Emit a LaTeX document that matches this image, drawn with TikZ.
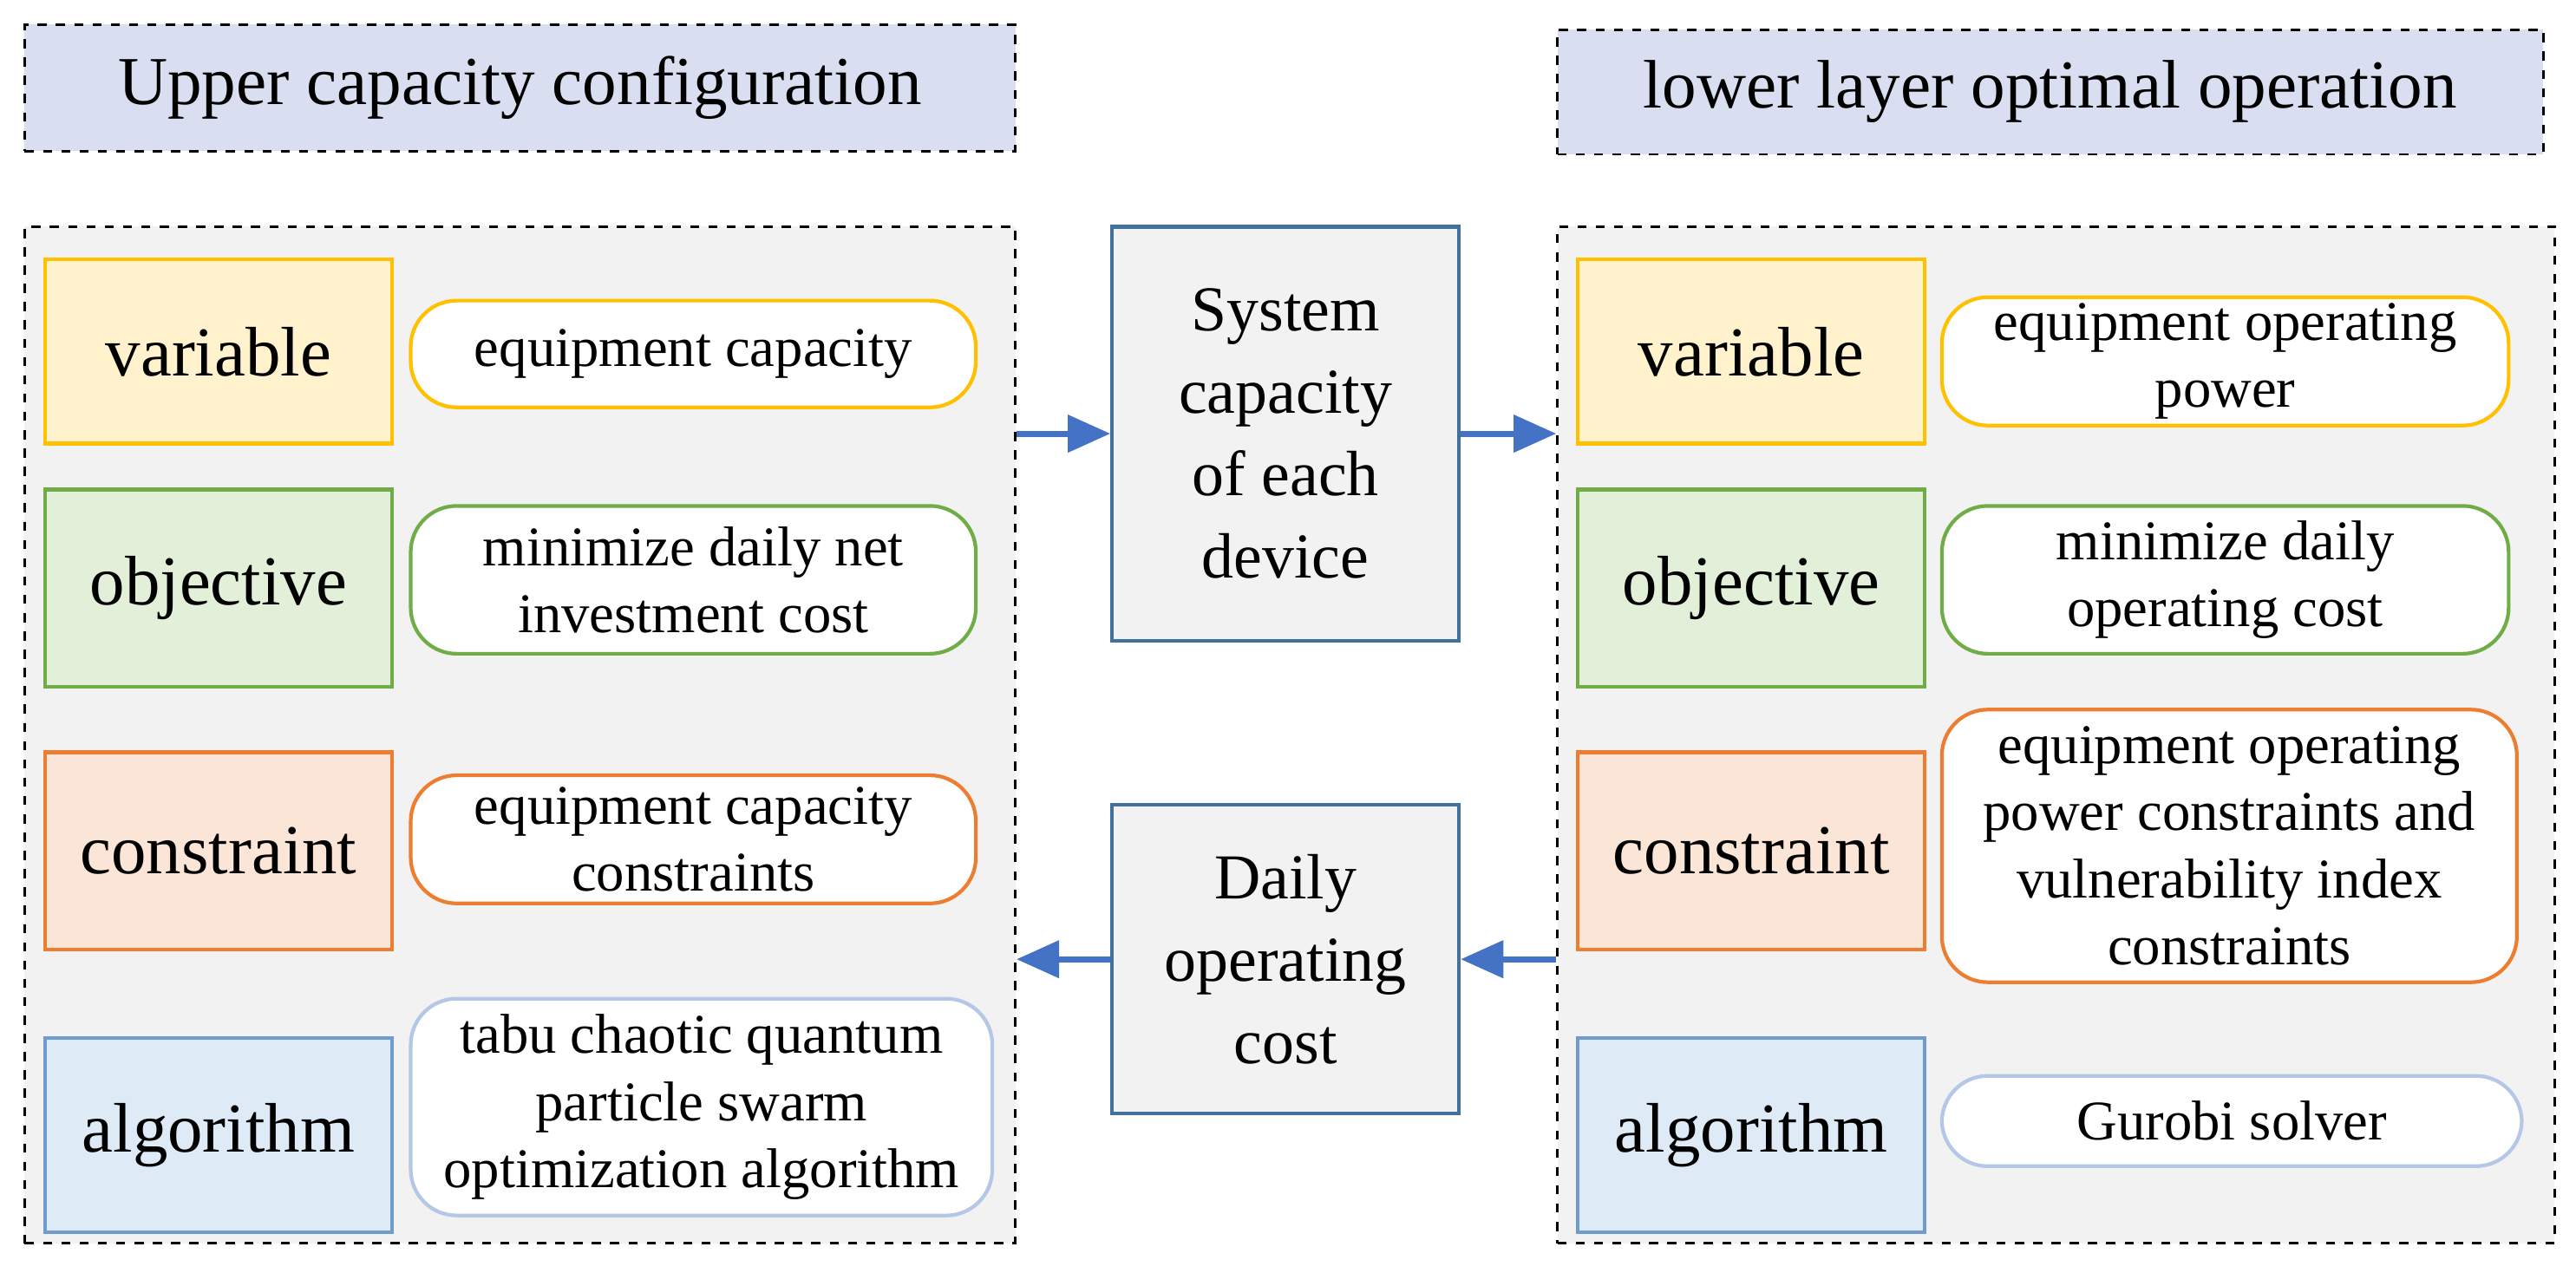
\documentclass[tikz,border=0pt]{standalone}
\usepackage{fontspec}
\setmainfont{Liberation Serif}
\usetikzlibrary{arrows.meta}
\newcommand\px{0.01894cm}
\definecolor{titlefill}{HTML}{D9DFF0}
\definecolor{framefill}{HTML}{F2F2F2}
\definecolor{yelfill}{HTML}{FFF2CC}
\definecolor{yeldraw}{HTML}{FFC000}
\definecolor{grnfill}{HTML}{E2F0D9}
\definecolor{grndraw}{HTML}{70AD47}
\definecolor{orgfill}{HTML}{FBE5D6}
\definecolor{orgdraw}{HTML}{ED7D31}
\definecolor{blufill}{HTML}{DEEBF7}
\definecolor{bludraw}{HTML}{6F9BD0}
\definecolor{pilblu}{HTML}{B4C7E7}
\definecolor{boxdraw}{HTML}{41719C}
\definecolor{arrcol}{HTML}{4472C4}
\tikzset{
    frame/.style={
           rectangle,
           draw=black, thick, dashed,
           fill=#1,
           inner sep=0pt,
           },
    label/.style={
           rectangle,
           draw=#1, very thick,
           inner sep=2pt,
           minimum width=211*\px,
           font=\fontsize{23}{27}\selectfont,
           },
    pill/.style={
           rectangle,
           rounded corners=28*\px,
           draw=#1, very thick,
           fill=white,
           inner sep=2pt,
           align=center,
           font=\fontsize{18.4}{22}\selectfont,
           },
    centre/.style={
           rectangle,
           draw=boxdraw, very thick,
           fill=framefill,
           minimum width=211*\px,
           align=center,
           font=\fontsize{21}{27}\selectfont,
           },
    link/.style={
           draw=arrcol, line width=2pt,
           -{Triangle[length=14pt,width=12pt]},
           },
}
\begin{document}
\begin{tikzpicture}[x=\px,y=-\px]
 \useasboundingbox (0,0) rectangle (1568,775);

 % titles
 \node[frame=titlefill,minimum width=603*\px,minimum height=77*\px,font=\fontsize{22.5}{27}\selectfont] (titleL) at (316.5,53.5) {Upper capacity configuration};
 \node[frame=titlefill,minimum width=600*\px,minimum height=76*\px,font=\fontsize{22.5}{27}\selectfont] (titleR) at (1248,56) {lower layer optimal operation};

 % frames
 \node[frame=framefill,minimum width=603*\px,minimum height=619*\px] (frameL) at (316.5,447.5) {};
 \node[frame=framefill,minimum width=607*\px,minimum height=619*\px] (frameR) at (1251.5,447.5) {};

 % left side
 \node[label=yeldraw,fill=yelfill,minimum height=112*\px] (varL) at (133,214) {variable};
 \node[label=grndraw,fill=grnfill,minimum height=120*\px] (objL) at (133,358) {objective};
 \node[label=orgdraw,fill=orgfill,minimum height=120*\px] (conL) at (133,518) {constraint};
 \node[label=bludraw,fill=blufill,minimum height=118*\px] (algL) at (133,691) {algorithm};
 \node[pill=yeldraw,minimum width=344*\px,minimum height=65*\px] (pvarL) at (422,215.5) {equipment capacity};
 \node[pill=grndraw,minimum width=344*\px,minimum height=90*\px] (pobjL) at (422,353) {minimize daily net\\investment cost};
 \node[pill=orgdraw,minimum width=344*\px,minimum height=78*\px] (pconL) at (422,511) {equipment capacity\\constraints};
 \node[pill=pilblu,minimum width=354*\px,minimum height=132*\px] (palgL) at (427,674) {tabu chaotic quantum\\particle swarm\\optimization algorithm};

 % right side
 \node[label=yeldraw,fill=yelfill,minimum height=112*\px] (varR) at (1066,214) {variable};
 \node[label=grndraw,fill=grnfill,minimum height=120*\px] (objR) at (1066,358) {objective};
 \node[label=orgdraw,fill=orgfill,minimum height=120*\px] (conR) at (1066,518) {constraint};
 \node[label=bludraw,fill=blufill,minimum height=118*\px] (algR) at (1066,691) {algorithm};
 \node[pill=yeldraw,minimum width=345*\px,minimum height=76*\px] (pvarR) at (1354.5,220) {equipment operating\\power};
 \node[pill=grndraw,minimum width=345*\px,minimum height=90*\px] (pobjR) at (1354.5,353) {minimize daily\\operating cost};
 \node[pill=orgdraw,minimum width=350*\px,minimum height=166*\px] (pconR) at (1357,515) {equipment operating\\power constraints and\\vulnerability index\\constraints};
 \node[pill=pilblu,minimum width=353*\px,minimum height=55*\px] (palgR) at (1358.5,682.5) {Gurobi solver};

 % centre
 \node[centre,minimum height=252*\px] (sys) at (782.5,264) {System\\capacity\\of each\\device};
 \node[centre,minimum height=188*\px] (cost) at (782.5,584) {Daily\\operating\\cost};

 \draw[link] (sys.west -| frameL.east) -- (sys.west);
 \draw[link] (sys.east) -- (sys.east -| frameR.west);
 \draw[link] (cost.east -| frameR.west) -- (cost.east);
 \draw[link] (cost.west) -- (cost.west -| frameL.east);
\end{tikzpicture}
\end{document}
